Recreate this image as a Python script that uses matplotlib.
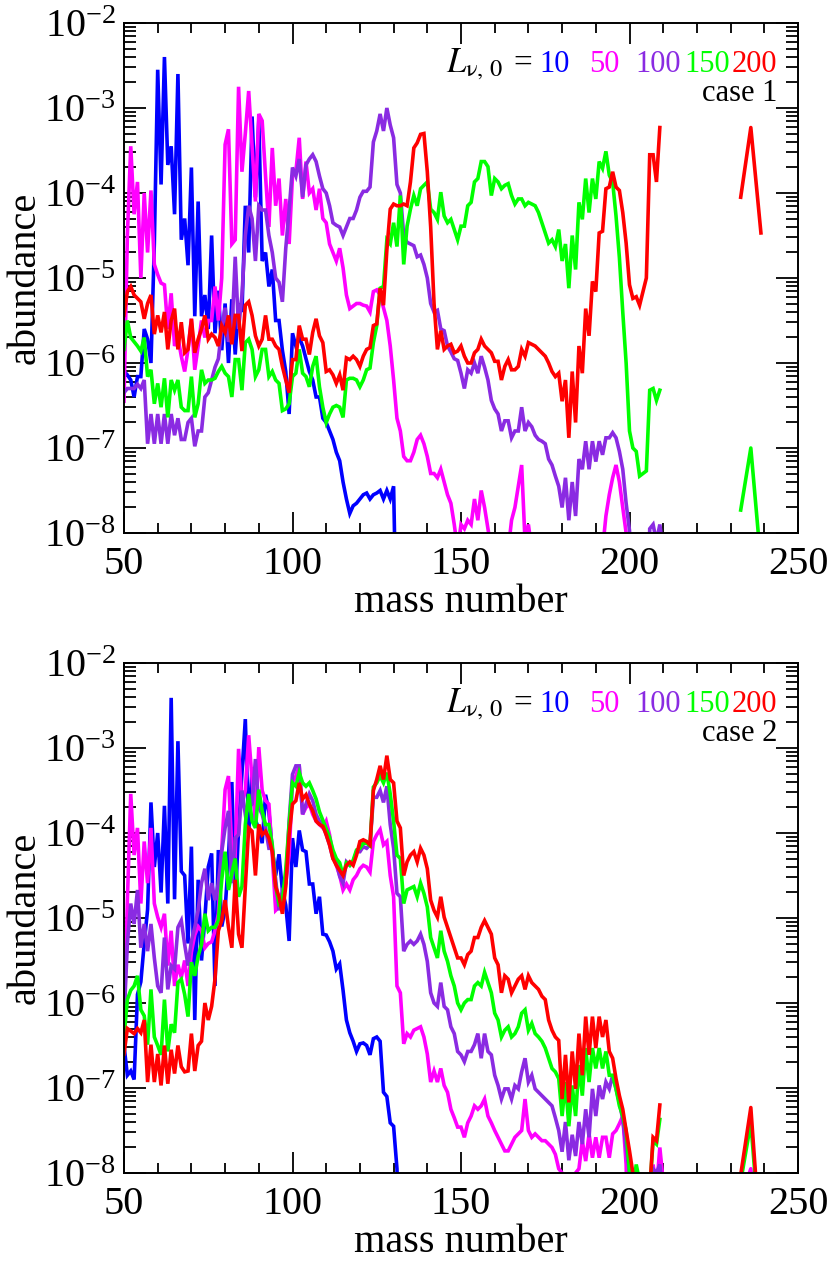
import numpy as np
import matplotlib
matplotlib.use("Agg")
import matplotlib.pyplot as plt
from matplotlib.ticker import MultipleLocator, LogLocator, NullFormatter

plt.rcParams.update({
    "font.family": ["Liberation Serif", "DejaVu Serif"],
    "mathtext.fontset": "stix",
    "axes.unicode_minus": False,
})

# ---------------- data: log10(abundance), mass numbers start at 50 ----------------
# values of -9.5 are below the plotted range (line leaves the frame)
START = 50
tail_mass = [233, 236, 239]

# case 1
blue1 = [-6.1, -6.14, -6.2, -6.4, -6.16, -6.16, -5.6, -5.72, -6.0, -4.6,
         -2.55, -3.9, -2.4, -3.67, -3.45, -4.25, -2.6, -4.55, -4.3, -4.85,
         -3.7, -5.45, -4.1, -5.45, -5.2, -5.6, -4.5, -5.65, -5.15, -5.85,
         -5.3, -6.0, -5.25, -5.9, -5.3, -5.4, -4.15, -4.7, -3.1, -4.05,
         -3.15, -4.8, -4.7, -5.1, -4.9, -5.5, -5.5, -5.85, -6.1, -6.6,
         -5.65, -5.8, -5.7, -5.8, -5.95, -6.1, -6.2, -6.4, -6.4, -6.65,
         -6.7, -6.8, -6.9, -7.05, -7.15, -7.4, -7.6, -7.77, -7.68, -7.65,
         -7.6, -7.55, -7.53, -7.6, -7.55, -7.53, -7.5, -7.6, -7.5, -7.6,
         -7.45, -9.5]
magenta1 = [-6.45, -4.5, -3.45, -4.25, -3.87, -5.0, -4.0, -4.7, -3.97, -4.84,
            -4.96, -5.06, -5.08, -5.6, -5.18, -5.8, -5.7, -5.92, -6.1, -5.84,
            -5.48, -6.08, -5.8, -5.5, -5.7, -5.5, -5.5, -5.1, -5.5, -5.0,
            -3.43, -3.25, -4.6, -4.55, -2.75, -3.75, -3.3, -2.8, -3.45, -4.1,
            -3.07, -3.15, -3.8, -4.4, -3.47, -4.15, -3.83, -4.5, -4.07, -4.6,
            -3.8, -3.75, -3.35, -4.07, -3.63, -4.0, -3.95, -4.2, -3.95, -4.3,
            -4.35, -4.6, -4.7, -4.8, -4.65, -4.88, -5.2, -5.36, -5.33, -5.3,
            -5.3, -5.32, -5.33, -5.4, -5.16, -5.14, -5.2, -5.35, -5.5, -5.8,
            -6.2, -6.65, -6.8, -7.1, -7.15, -7.15, -7.05, -6.9, -6.85, -6.95,
            -7.1, -7.3, -7.3, -7.35, -7.25, -7.4, -7.55, -7.65, -7.9, -8.2,
            -7.9, -7.95, -7.85, -7.9, -7.6, -7.85, -7.5, -7.7, -7.95, -8.2,
            -9.5, -9.5, -9.5, -9.5, -8.2, -7.85, -7.7, -7.45, -7.2, -8.1,
            -7.9, -8.2, -9.5, -9.5, -9.5, -9.5, -9.5, -9.5, -9.5, -9.5,
            -9.5, -9.5, -9.5, -9.5, -9.5, -9.5, -9.5, -9.5, -9.5, -9.5,
            -9.5, -9.5, -8.2, -7.8, -7.55, -7.35, -7.2, -7.4, -7.7, -8.0,
            -8.3]
purple1 = [-6.35, -6.3, -6.3, -6.3, -6.25, -6.3, -6.2, -6.95, -6.6, -6.95,
           -6.6, -6.95, -6.6, -6.95, -6.6, -6.85, -6.65, -6.9, -6.9, -6.7,
           -6.65, -6.98, -6.8, -6.8, -6.4, -6.35, -6.2, -6.05, -5.95, -5.6,
           -5.35, -5.75, -5.65, -4.75, -5.6, -5.2, -4.5, -4.15, -4.3, -4.8,
           -4.15, -4.2, -4.2, -4.5, -4.7, -5.0, -5.05, -5.28, -4.65, -4.2,
           -3.7, -3.8, -3.6, -4.05, -3.67, -3.6, -3.55, -3.63, -3.8, -3.95,
           -4.0, -4.15, -4.35, -4.38, -4.4, -4.5, -4.4, -4.3, -4.3, -4.2,
           -4.05, -3.98, -3.98, -3.93, -3.4, -3.27, -3.07, -3.27, -3.0, -3.2,
           -3.35, -3.9, -4.0, -4.5, -4.58, -4.6, -4.62, -4.75, -4.73, -4.84,
           -5.0, -5.3, -5.4, -5.38, -5.6, -5.62, -5.8, -5.87, -5.95, -5.97,
           -6.12, -6.3, -6.08, -6.12, -6.0, -6.12, -5.92, -6.05, -6.2, -6.44,
           -6.54, -6.6, -6.8, -6.68, -6.68, -6.88, -6.8, -6.8, -6.52, -6.8,
           -6.7, -6.75, -6.85, -6.9, -6.92, -6.95, -7.13, -7.2, -7.33, -7.45,
           -7.7, -7.35, -7.85, -7.4, -7.8, -7.13, -7.25, -6.92, -7.25, -6.92,
           -7.16, -6.92, -7.08, -6.88, -6.88, -6.82, -6.88, -7.04, -7.25, -7.65,
           -7.97, -9.5, -9.5, -9.5, -9.5, -9.5, -7.95, -7.9, -8.1, -7.9, -8.2]
green1 = [-5.84, -5.5, -5.7, -5.75, -5.8, -5.86, -5.7, -6.16, -6.08, -6.48,
          -6.24, -6.52, -6.18, -6.64, -6.2, -6.32, -6.2, -6.52, -6.56, -6.56,
          -6.16, -6.64, -6.48, -6.08, -6.24, -6.2, -6.2, -6.18, -6.1, -6.04,
          -6.12, -6.16, -6.4, -5.96, -5.96, -6.32, -5.76, -5.72, -5.84, -6.16,
          -6.08, -5.84, -5.84, -6.16, -6.1, -6.2, -6.24, -6.56, -6.54, -6.48,
          -6.16, -6.12, -5.84, -6.12, -6.16, -6.28, -6.04, -5.92, -6.28, -6.52,
          -6.7, -6.6, -6.52, -6.5, -6.52, -6.64, -6.2, -6.18, -6.18, -6.2,
          -6.28, -6.2, -6.08, -6.06, -5.76, -5.56, -5.12, -5.1, -4.55, -4.6,
          -4.35, -4.63, -4.03, -4.84, -4.39, -4.19, -4.03, -4.15, -3.95, -3.91,
          -3.87, -4.19, -4.23, -4.31, -3.99, -4.27, -4.35, -4.31, -4.43, -4.55,
          -4.39, -4.39, -4.15, -4.11, -3.87, -3.83, -3.63, -3.63, -3.69, -4.03,
          -3.83, -3.87, -3.95, -3.91, -3.89, -4.03, -4.13, -4.07, -4.07, -4.15,
          -4.11, -4.13, -4.15, -4.23, -4.35, -4.47, -4.59, -4.55, -4.63, -4.43,
          -4.8, -4.6, -5.12, -4.5, -4.9, -4.11, -4.31, -3.83, -4.23, -3.83,
          -4.07, -3.63, -3.71, -3.51, -3.79, -3.87, -4.27, -4.76, -5.4, -6.0,
          -6.8, -7.0, -7.04, -7.33, -7.3, -7.27, -6.32, -6.3, -6.44, -6.32]
red1 = [-5.44, -5.16, -5.1, -5.2, -5.24, -5.28, -5.48, -5.3, -5.2, -5.66,
        -5.44, -5.64, -5.4, -5.84, -5.5, -5.36, -5.84, -5.52, -5.88, -5.84,
        -5.48, -5.88, -5.72, -5.6, -5.44, -5.72, -5.66, -5.7, -5.8, -5.56,
        -5.64, -5.44, -5.78, -5.44, -5.44, -5.86, -5.32, -5.28, -5.44, -5.68,
        -5.8, -5.72, -5.44, -5.72, -5.72, -5.8, -5.84, -6.04, -6.2, -6.35,
        -5.96, -5.96, -5.56, -5.72, -5.72, -5.9, -5.64, -5.48, -5.68, -5.76,
        -6.1, -6.08, -6.14, -6.24, -6.14, -6.32, -5.94, -5.96, -5.92, -5.96,
        -6.04, -5.92, -5.84, -5.82, -5.56, -5.54, -5.12, -5.32, -4.67, -4.19,
        -4.13, -4.15, -4.15, -4.13, -4.15, -3.87, -3.47, -3.41, -3.31, -3.3,
        -3.75, -4.4, -5.3, -5.84, -5.62, -5.84, -5.8, -5.78, -5.88, -5.86,
        -5.8, -5.92, -6.0, -6.0, -5.88, -5.84, -5.72, -5.8, -5.84, -5.88,
        -5.98, -5.98, -6.2, -6.04, -5.96, -6.08, -6.08, -6.04, -5.84, -5.92,
        -5.76, -5.78, -5.8, -5.84, -5.88, -5.92, -6.0, -6.1, -6.16, -6.12,
        -6.45, -6.2, -6.88, -6.1, -6.7, -5.8, -6.12, -5.36, -5.68, -5.04,
        -5.16, -4.47, -4.45, -3.95, -3.93, -3.75, -3.93, -3.97, -4.23, -4.59,
        -5.08, -5.24, -5.22, -5.32, -5.16, -5.0, -3.55, -3.55, -3.87, -3.23]
green1_tail = [-7.73, -7.0, -8.36]
red1_tail = [-4.05, -3.23, -4.47]

# case 2
blue2 = [-6.5, -6.85, -6.8, -6.9, -5.9, -5.75, -5.3, -4.9, -3.64, -4.4,
         -4.0, -4.7, -3.68, -4.83, -2.41, -4.78, -2.92, -4.45, -4.5, -5.3,
         -4.16, -6.2, -4.55, -5.5, -5.0, -4.4, -4.24, -5.8, -4.2, -5.1,
         -4.9, -4.3, -3.4, -4.85, -3.95, -3.3, -2.66, -4.0, -3.23, -3.85,
         -3.95, -4.12, -3.55, -3.75, -4.2, -4.5, -4.25, -4.67, -4.85, -5.27,
         -4.06, -4.4, -3.97, -4.2, -4.22, -4.6, -4.6, -4.95, -4.75, -5.19,
         -5.2, -5.28, -5.39, -5.6, -5.54, -5.85, -6.2, -6.35, -6.45, -6.57,
         -6.48, -6.47, -6.5, -6.61, -6.42, -6.4, -6.45, -7.05, -7.1, -7.41,
         -7.45, -7.95, -9.5]
magenta2 = [-6.3, -4.8, -3.54, -4.26, -3.94, -4.83, -4.1, -4.59, -3.94, -4.83,
            -4.99, -5.11, -4.95, -5.56, -5.15, -5.8, -5.55, -5.7, -5.5, -5.8,
            -5.4, -5.2, -5.1, -5.15, -5.35, -5.3, -5.28, -5.15, -4.95, -4.2,
            -3.49, -3.33, -4.2, -4.25, -3.01, -3.66, -3.5, -2.85, -3.37, -3.86,
            -2.99, -3.5, -3.62, -3.66, -4.26, -4.91, -4.87, -4.83, -4.59, -4.26,
            -3.41, -3.33, -3.21, -3.78, -3.7, -3.66, -3.78, -3.86, -3.9, -3.94,
            -3.86, -4.02, -4.26, -4.38, -4.5, -4.67, -4.6, -4.67, -4.55, -4.5,
            -4.42, -4.38, -4.4, -4.46, -4.1, -4.02, -3.96, -4.14, -4.1, -4.5,
            -4.75, -5.8, -5.88, -6.48, -6.36, -6.4, -6.32, -6.3, -6.28, -6.4,
            -6.6, -6.93, -6.8, -6.93, -6.77, -6.97, -7.05, -7.25, -7.35, -7.46,
            -7.46, -7.58, -7.41, -7.33, -7.21, -7.25, -7.21, -7.13, -7.33, -7.41,
            -7.5, -7.58, -7.66, -7.74, -7.74, -7.66, -7.58, -7.54, -7.5, -7.13,
            -7.5, -7.58, -7.54, -7.58, -7.62, -7.62, -7.66, -7.7, -7.78, -7.95,
            -8.0, -8.2, -9.5, -8.1, -8.0, -7.95, -7.62, -7.86, -7.54, -7.82,
            -7.58, -7.82, -7.58, -7.58, -7.82, -7.54, -7.5, -7.42, -7.33, -7.9,
            -9.5, -9.5, -9.5, -9.5, -9.5, -9.5, -9.5, -7.9, -8.2, -7.7, -8.1]
purple2 = [-6.2, -5.3, -4.83, -5.07, -4.67, -5.35, -5.07, -5.39, -5.07, -5.47,
           -5.8, -5.88, -5.23, -5.84, -5.56, -5.6, -5.11, -5.03, -5.31, -5.56,
           -5.27, -5.11, -4.91, -4.59, -4.42, -4.79, -4.59, -4.79, -4.59, -4.22,
           -3.94, -3.74, -4.59, -4.06, -4.02, -3.5, -3.78, -3.7, -3.66, -3.13,
           -3.7, -3.78, -3.94, -4.18, -4.18, -4.55, -4.91, -4.67, -4.59, -3.86,
           -3.31, -3.21, -3.21, -3.78, -3.66, -3.54, -3.62, -3.78, -3.86, -3.9,
           -4.02, -4.14, -4.3, -4.34, -4.51, -4.59, -4.34, -4.38, -4.34, -4.22,
           -4.22, -4.16, -4.18, -4.14, -3.58, -3.58, -3.5, -3.64, -3.45, -3.9,
           -4.18, -4.71, -4.75, -5.39, -5.31, -5.27, -5.31, -5.27, -5.19, -5.31,
           -5.51, -5.88, -6.0, -6.04, -5.76, -6.04, -6.08, -6.28, -6.36, -6.57,
           -6.61, -6.69, -6.57, -6.57, -6.49, -6.36, -6.65, -6.36, -6.57, -6.61,
           -6.85, -6.97, -7.13, -7.01, -7.01, -7.13, -6.97, -7.01, -6.81, -6.65,
           -6.93, -6.85, -7.01, -7.05, -7.09, -7.13, -7.17, -7.21, -7.35, -7.5,
           -7.75, -7.4, -7.85, -7.55, -7.8, -7.4, -7.66, -7.25, -7.58, -7.01,
           -7.33, -6.97, -7.13, -6.93, -7.01, -6.85, -7.01, -7.17, -7.37, -7.7,
           -8.0, -9.5, -9.5, -9.5, -9.5, -9.5, -8.3, -7.95, -8.0, -7.9, -8.3]
green2 = [-6.4, -5.96, -5.85, -5.8, -5.68, -6.08, -6.15, -6.49, -5.84, -6.4,
          -6.5, -6.61, -5.96, -6.57, -6.25, -6.35, -5.76, -5.72, -5.9, -6.16,
          -5.52, -5.68, -5.45, -5.31, -4.95, -5.15, -5.11, -5.11, -5.03, -4.55,
          -4.22, -4.67, -4.47, -4.3, -4.75, -4.63, -3.9, -3.54, -3.86, -3.94,
          -3.49, -3.74, -3.9, -3.9, -4.14, -4.63, -4.83, -4.79, -4.43, -3.9,
          -3.41, -3.45, -3.29, -3.41, -3.45, -3.41, -3.5, -3.6, -3.75, -3.85,
          -3.95, -4.05, -4.2, -4.3, -4.35, -4.5, -4.35, -4.38, -4.32, -4.2,
          -4.18, -4.12, -4.12, -4.15, -3.46, -3.41, -3.33, -3.41, -3.29, -3.54,
          -3.86, -4.26, -4.3, -4.83, -4.67, -4.65, -4.63, -4.75, -4.59, -4.71,
          -4.87, -5.23, -5.35, -5.47, -5.15, -5.39, -5.51, -5.68, -5.8, -6.0,
          -6.08, -6.0, -5.96, -5.96, -5.8, -5.76, -5.8, -5.64, -5.76, -5.88,
          -6.12, -6.2, -6.4, -6.32, -6.28, -6.4, -6.36, -6.28, -6.12, -6.08,
          -6.32, -6.24, -6.36, -6.4, -6.45, -6.53, -6.65, -6.77, -6.81, -6.89,
          -7.33, -6.93, -7.45, -6.97, -7.33, -6.73, -7.09, -6.53, -6.93, -6.53,
          -6.77, -6.53, -6.77, -6.57, -6.85, -6.85, -7.01, -7.21, -7.33, -7.5,
          -8.0, -8.2, -7.9, -8.1, -9.5, -9.5, -8.2, -7.62, -7.66, -7.37]
red2 = [-6.6, -6.3, -6.33, -6.36, -6.3, -6.35, -6.2, -6.93, -6.49, -6.93,
        -6.6, -6.97, -6.5, -6.95, -6.55, -6.83, -6.5, -6.75, -6.81, -6.8,
        -6.36, -6.8, -6.5, -6.45, -6.0, -6.2, -6.04, -5.72, -5.15, -5.03,
        -4.79, -5.11, -5.35, -4.55, -5.19, -5.35, -4.63, -3.94, -3.98, -4.5,
        -3.9, -4.02, -3.98, -4.06, -4.22, -4.63, -4.75, -4.95, -4.63, -4.02,
        -3.66, -3.62, -3.41, -3.6, -3.55, -3.66, -3.74, -3.86, -3.9, -3.92,
        -4.02, -4.14, -4.3, -4.38, -4.44, -4.5, -4.38, -4.34, -4.38, -4.26,
        -4.1, -4.08, -4.1, -4.14, -3.5, -3.37, -3.21, -3.37, -3.09, -3.37,
        -3.41, -3.86, -3.94, -4.5, -4.34, -4.26, -4.22, -4.34, -4.18, -4.26,
        -4.42, -4.79, -4.91, -4.99, -4.75, -4.99, -5.11, -5.23, -5.35, -5.47,
        -5.47, -5.55, -5.43, -5.39, -5.23, -5.23, -5.11, -5.03, -5.11, -5.19,
        -5.47, -5.55, -5.88, -5.68, -5.72, -5.88, -5.8, -5.72, -5.68, -5.84,
        -5.68, -5.76, -5.8, -5.84, -5.92, -5.96, -6.2, -6.32, -6.4, -6.44,
        -7.13, -6.61, -7.17, -6.57, -7.01, -6.36, -6.85, -6.16, -6.61, -6.16,
        -6.53, -6.16, -6.4, -6.2, -6.57, -6.65, -6.89, -7.09, -7.25, -7.5,
        -7.74, -8.0, -8.4, -9.5, -9.5, -9.5, -8.2, -7.58, -7.62, -7.2]
magenta2_tail = [-8.3, -7.95, -9.0]
green2_tail = [-8.1, -7.41, -8.9]
red2_tail = [-8.02, -7.23, -8.9]

labels = ["10", "50", "100", "150", "200"]
colors = ["#0000ff", "#ff00ff", "#8a2be2", "#00ff00", "#ff0000"]


def xy(logs, start=START, masses=None):
    y = 10.0 ** np.asarray(logs, dtype=float)
    x = np.asarray(masses, dtype=float) if masses is not None else start + np.arange(len(y))
    return x, y


W, H = 831, 1270
fig = plt.figure(figsize=(W / 100, H / 100), dpi=100)
# axes boxes in pixels: left, top, right, bottom
ax1 = fig.add_axes([124 / W, 1 - 533 / H, 674 / W, 510 / H])
ax2 = fig.add_axes([124 / W, 1 - 1173 / H, 674 / W, 510 / H])

panels = [
    (ax1, [blue1, magenta1, purple1, green1, red1],
     [(3, green1_tail), (4, red1_tail)], "case 1"),
    (ax2, [blue2, magenta2, purple2, green2, red2],
     [(1, magenta2_tail), (3, green2_tail), (4, red2_tail)], "case 2"),
]

LW = 2.6
for ax, series, tails, case in panels:
    for s, c in zip(series, colors):
        x, y = xy(s)
        ax.plot(x, y, color=c, lw=LW, solid_joinstyle="miter", zorder=2)
    for idx, t in tails:
        x, y = xy(t, masses=tail_mass)
        ax.plot(x, y, color=colors[idx], lw=LW, zorder=2)

    ax.set_yscale("log")
    ax.set_xlim(50, 250)
    ax.set_ylim(1e-8, 1e-2)
    ax.xaxis.set_major_locator(MultipleLocator(50))
    ax.xaxis.set_minor_locator(MultipleLocator(10))
    ax.yaxis.set_major_locator(LogLocator(base=10, numticks=10))
    ax.yaxis.set_minor_locator(LogLocator(base=10, subs=np.arange(2, 10), numticks=20))
    ax.yaxis.set_minor_formatter(NullFormatter())
    ax.tick_params(which="both", direction="in", top=True, right=True, width=1.3,
                   labelsize=29)
    ax.tick_params(axis="x", which="major", length=15, pad=9)
    ax.tick_params(axis="x", which="minor", length=7.5)
    ax.tick_params(axis="y", which="major", length=16, pad=6)
    ax.tick_params(axis="y", which="minor", length=8.5)
    for sp in ax.spines.values():
        sp.set_linewidth(1.4)
    ax.set_xlabel("mass number", fontsize=29, labelpad=1)
    ax.set_ylabel("abundance", fontsize=29, labelpad=0)

    # legend-like annotation (placed by pixel offsets from the axes top)
    fs = 22
    yb = 1 - 49 / 510
    ax.text(0.478, yb, r"$L_{\mathrm{\nu},\,0}$", transform=ax.transAxes,
            fontsize=fs + 3, ha="left", va="baseline", color="black")
    ax.text(0.577, yb, "=", transform=ax.transAxes, fontsize=fs + 2,
            ha="left", va="baseline", color="black")
    xs = [0.617, 0.690, 0.758, 0.832, 0.902]
    for xpos, lab, c in zip(xs, labels, colors):
        ax.text(xpos, yb, lab, transform=ax.transAxes, fontsize=fs,
                ha="left", va="baseline", color=c)
    ax.text(0.970, 1 - 78 / 510, case, transform=ax.transAxes, fontsize=fs,
            ha="right", va="baseline", color="black")

fig.savefig("out.png", dpi=100)
